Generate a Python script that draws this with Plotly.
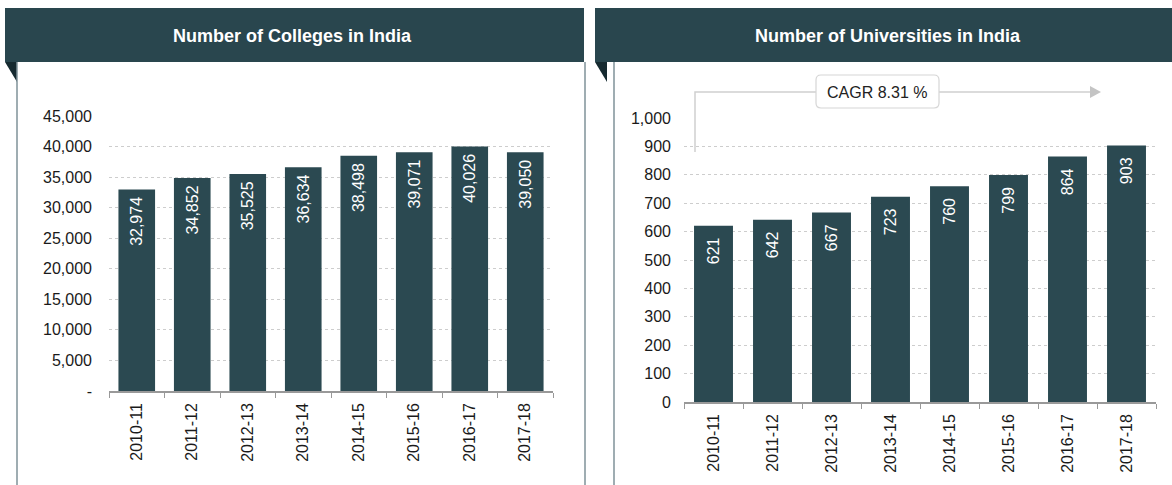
import plotly.graph_objects as go

W, H = 1172, 485

years = ["2010-11", "2011-12", "2012-13", "2013-14", "2014-15", "2015-16", "2016-17", "2017-18"]
colleges = [32974, 34852, 35525, 36634, 38498, 39071, 40026, 39050]
universities = [621, 642, 667, 723, 760, 799, 864, 903]

col_tickvals = [0, 5000, 10000, 15000, 20000, 25000, 30000, 35000, 40000, 45000]
col_ticktext = ["-", "5,000", "10,000", "15,000", "20,000", "25,000", "30,000", "35,000", "40,000", "45,000"]
uni_tickvals = [0, 100, 200, 300, 400, 500, 600, 700, 800, 900, 1000]
uni_ticktext = ["0", "100", "200", "300", "400", "500", "600", "700", "800", "900", "1,000"]

title_left = "Number of Colleges in India"
title_right = "Number of Universities in India"
cagr_text = "CAGR 8.31 %"

BAR = "#2b4951"
HEAD = "#29464e"
DARK = "#162a30"
FONT = "Liberation Sans, Arial, sans-serif"


def px(x):
    return x / W


def py(y):
    return 1 - y / H


fig = go.Figure()
fig.add_trace(go.Bar(
    x=years, y=colleges, marker=dict(color=BAR, line=dict(width=0)),
    texttemplate="%{y:,}\u00a0", textposition="inside", insidetextanchor="end",
    textangle=-90, textfont=dict(color="white", size=16, family=FONT),
    constraintext="none", xaxis="x", yaxis="y", showlegend=False, hoverinfo="x+y"))
fig.add_trace(go.Bar(
    x=years, y=universities, marker=dict(color=BAR, line=dict(width=0)),
    texttemplate="%{y:,}\u00a0\u00a0", textposition="inside", insidetextanchor="end",
    textangle=-90, textfont=dict(color="white", size=16, family=FONT),
    constraintext="none", xaxis="x2", yaxis="y2", showlegend=False, hoverinfo="x+y"))

xcommon = dict(type="category", tickson="boundaries", ticks="outside", ticklen=5,
               tickcolor="#999", showline=True, linecolor="#999", linewidth=1.5,
               tickangle=-90, tickfont=dict(size=16, color="#1a1a1a", family=FONT),
               ticklabelstandoff=4, showgrid=False, fixedrange=True)
ycommon = dict(showline=False, ticks="", showgrid=True, gridcolor="#cdcdcd",
               griddash="dot", gridwidth=1, zeroline=False,
               tickfont=dict(size=16, color="#1a1a1a", family=FONT), fixedrange=True)

fig.update_layout(
    width=W, height=H, margin=dict(l=0, r=0, t=0, b=0, autoexpand=False),
    paper_bgcolor="white", plot_bgcolor="white", bargap=0.34,
    font=dict(family=FONT),
    xaxis=dict(domain=[px(109), px(553)], anchor="y", **xcommon),
    yaxis=dict(domain=[py(391), py(116)], anchor="x", range=[0, 45000],
               tickvals=col_tickvals, ticktext=col_ticktext, ticklabelstandoff=16, **ycommon),
    xaxis2=dict(domain=[px(684), px(1156)], anchor="y2", **xcommon),
    yaxis2=dict(domain=[py(402), py(118)], anchor="x2", range=[0, 1000],
                tickvals=uni_tickvals, ticktext=uni_ticktext, ticklabelstandoff=12, **ycommon),
)

shapes = []
# headers
for x0, x1 in [(5, 584), (595, 1172)]:
    shapes.append(dict(type="rect", xref="paper", yref="paper", x0=px(x0), x1=px(x1),
                       y0=py(62), y1=py(8), fillcolor=HEAD, line=dict(width=0), layer="below"))
# folded corner triangles
for xl, xr in [(5, 17), (595, 607)]:
    shapes.append(dict(type="path", xref="paper", yref="paper",
                       path=f"M {px(xl)} {py(62)} L {px(xr)} {py(62)} L {px(xr)} {py(82)} Z",
                       fillcolor=DARK, line=dict(width=0)))
# panel borders
for xb in [17, 585, 614]:
    shapes.append(dict(type="line", xref="paper", yref="paper", x0=px(xb), x1=px(xb),
                       y0=py(62), y1=py(485), line=dict(color="#7f9298", width=1.5)))
# CAGR bracket
shapes.append(dict(type="path", xref="paper", yref="paper",
                   path=f"M {px(695)} {py(152)} L {px(695)} {py(92)} L {px(1092)} {py(92)}",
                   line=dict(color="#d0d0d0", width=1.5)))
shapes.append(dict(type="path", xref="paper", yref="paper",
                   path=f"M {px(1090)} {py(86)} L {px(1101)} {py(92)} L {px(1090)} {py(98)} Z",
                   fillcolor="#c4c4c4", line=dict(width=0)))
# rounded box
bx0, bx1, by0, by1, r = 816, 939, 75, 108, 5
path = (f"M {px(bx0 + r)} {py(by0)} L {px(bx1 - r)} {py(by0)} "
        f"Q {px(bx1)} {py(by0)} {px(bx1)} {py(by0 + r)} L {px(bx1)} {py(by1 - r)} "
        f"Q {px(bx1)} {py(by1)} {px(bx1 - r)} {py(by1)} L {px(bx0 + r)} {py(by1)} "
        f"Q {px(bx0)} {py(by1)} {px(bx0)} {py(by1 - r)} L {px(bx0)} {py(by0 + r)} "
        f"Q {px(bx0)} {py(by0)} {px(bx0 + r)} {py(by0)} Z")
shapes.append(dict(type="path", xref="paper", yref="paper", path=path,
                   fillcolor="white", line=dict(color="#d6d6d6", width=1.2)))
fig.update_layout(shapes=shapes)

ann = dict(xref="paper", yref="paper", showarrow=False, xanchor="center", yanchor="middle")
annotations = [
    dict(text=f"<b>{title_left}</b>", x=px(292), y=py(36),
         font=dict(color="white", size=18, family=FONT), **ann),
    dict(text=f"<b>{title_right}</b>", x=px(888), y=py(36),
         font=dict(color="white", size=18, family=FONT), **ann),
    dict(text=cagr_text, x=px(877), y=py(92),
         font=dict(color="#222", size=16, family=FONT), **ann),
]
fig.update_layout(annotations=annotations)

fig.write_html("out.html", config={"displayModeBar": False},
               post_script="document.body.style.margin='0';document.body.style.overflow='hidden';")
